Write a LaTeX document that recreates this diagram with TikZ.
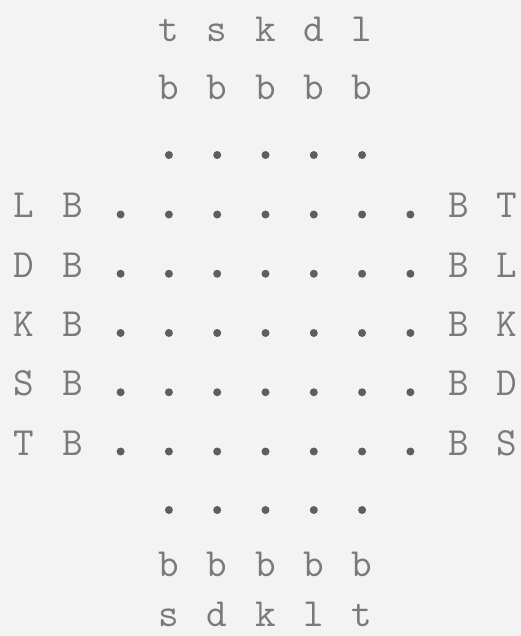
\documentclass[tikz,border=0pt]{standalone}
\usepackage{fontspec}
\definecolor{paper}{HTML}{F3F3F3}
\definecolor{txtgray}{HTML}{7A7A7A}
\definecolor{dotgray}{HTML}{5E5E5E}
\tikzset{
  ch/.style={anchor=base, inner sep=0pt, text=txtgray, font=\ttfamily\fontsize{40}{40}\selectfont},
  pnt/.style={circle, fill=dotgray, draw=none, inner sep=0pt, minimum size=8pt},
}
\begin{document}
\begin{tikzpicture}[x=1pt,y=-1pt]
\fill[paper] (0,0) rectangle (521,636);
\useasboundingbox (0,0) rectangle (521,636);
% top block
\foreach \c [count=\i from 0] in {t,s,k,d,l} {
  \node[ch] (top\i) at ({168.9+48.3*\i},41.7) {\c};
  \node[ch] (tb\i) at ({168.9+48.3*\i},100) {b};
  \node[pnt] (tp\i) at ({168.9+48.3*\i},155) {};
}
% side rows
\foreach \l/\r [count=\j from 0] in {L/T,D/L,K/K,S/D,T/S} {
  \pgfmathsetmacro\yb{218+59.25*\j}
  \node[ch] (lft\j) at (24,\yb) {\l};
  \node[ch] (lB\j) at (72.3,\yb) {B};
  \foreach \k in {0,...,6} {
    \node[pnt] (m\j\k) at ({120.6+48.3*\k},\yb-3.5) {};
  }
  \node[ch] (rB\j) at (458.7,\yb) {B};
  \node[ch] (rgt\j) at (507,\yb) {\r};
}
% bottom block
\foreach \c [count=\i from 0] in {s,d,k,l,t} {
  \node[pnt] (bp\i) at ({168.9+48.3*\i},510) {};
  \node[ch] (bb\i) at ({168.9+48.3*\i},576) {b};
  \node[ch] (bot\i) at ({168.9+48.3*\i},626.5) {\c};
}
\end{tikzpicture}
\end{document}
